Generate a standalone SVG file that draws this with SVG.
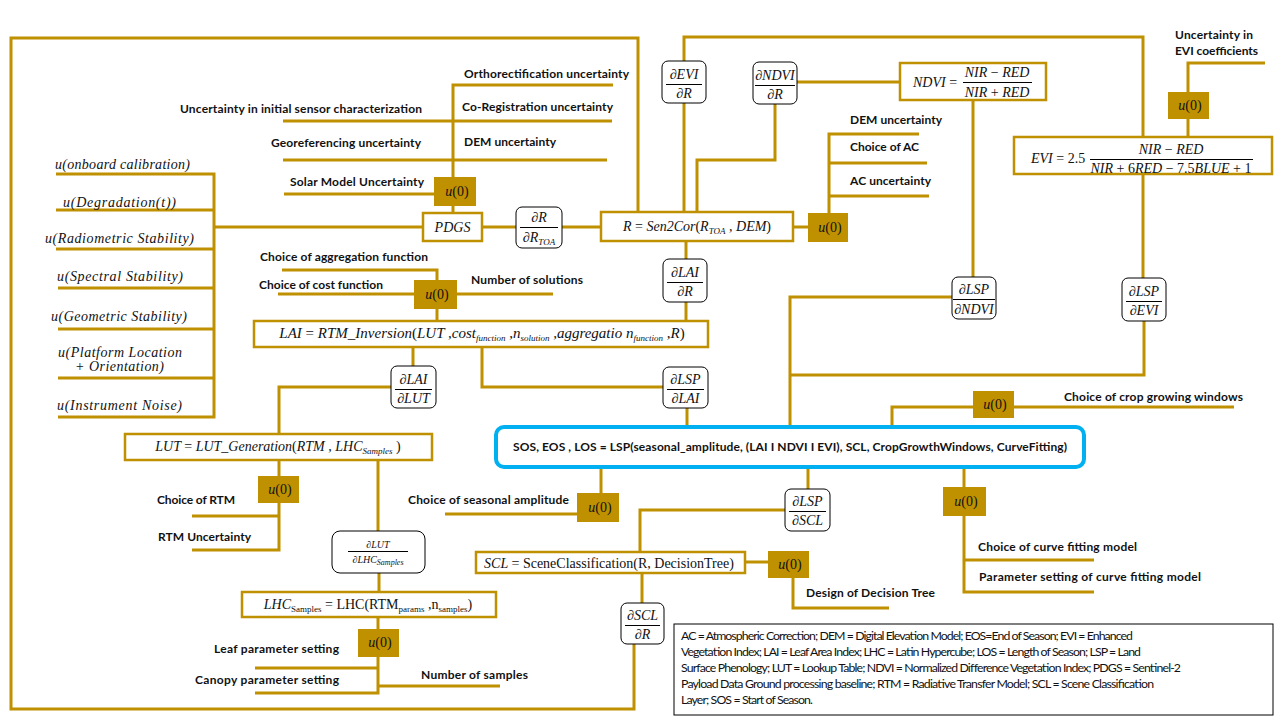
<svg xmlns="http://www.w3.org/2000/svg" width="1280" height="720" viewBox="0 0 1280 720">
<style>
.ln{stroke:#BF9000;stroke-width:3;fill:none}
.bx{fill:#fff;stroke:#BF9000;stroke-width:2.5}
.u0{fill:#BF9000}
.dv{fill:#fff;stroke:#000;stroke-width:1}
.fl{stroke:#000;stroke-width:1}
.t{font-family:Lato,"Liberation Sans",sans-serif;font-weight:bold;font-size:12px;fill:#111}
.m{font-family:"Liberation Serif",serif;font-style:italic;font-size:14px;fill:#111}
.mf{font-family:"Liberation Serif",serif;font-style:italic;font-size:14px;fill:#111}
.r{font-style:normal}
.c{text-anchor:middle}
.s{font-size:9px}
.lg{font-family:Lato,"Liberation Sans",sans-serif;font-size:12.3px;fill:#111}
.main{fill:#fff;stroke:#00B0F0;stroke-width:4}
</style>
<rect width="1280" height="720" fill="#fff"/>

<g id="connectors">
<path class="ln" d="M638,212 V38 H11 V709 H634 V644"/>
<path class="ln" d="M684,61 V37 H1143 V137"/>
<path class="ln" d="M684,103 V212"/>
<path class="ln" d="M697,212 V160 H775 V104"/>
<path class="ln" d="M797,82 H900"/>
<path class="ln" d="M973,100 V277"/>
<path class="ln" d="M790,427 V297 H952"/>
<path class="ln" d="M790,375 H1144 V321"/>
<path class="ln" d="M1143,174 V278"/>
<path class="ln" d="M1188,137 V119"/>
<path class="ln" d="M1188,92 V63 H1265"/>
<path class="ln" d="M56,174 H214 V417 H58"/>
<path class="ln" d="M56,210 H214"/>
<path class="ln" d="M56,249 H214"/>
<path class="ln" d="M58,288 H214"/>
<path class="ln" d="M58,329 H214"/>
<path class="ln" d="M58,378 H214"/>
<path class="ln" d="M214,227 H423"/>
<path class="ln" d="M482,227 H516"/>
<path class="ln" d="M562,227 H601"/>
<path class="ln" d="M283,121 H612"/>
<path class="ln" d="M283,160 H607"/>
<path class="ln" d="M284,194 H434"/>
<path class="ln" d="M613,85 H453 V177"/>
<path class="ln" d="M453,206 V213"/>
<path class="ln" d="M793,227 H808"/>
<path class="ln" d="M829,213 V134 H919"/>
<path class="ln" d="M829,163 H927"/>
<path class="ln" d="M829,196 H929"/>
<path class="ln" d="M686,241 V259"/>
<path class="ln" d="M686,302 V321"/>
<path class="ln" d="M282,270 H437 V280"/>
<path class="ln" d="M278,294 H414"/>
<path class="ln" d="M457,294 H553"/>
<path class="ln" d="M437,309 V321"/>
<path class="ln" d="M413,347 V366"/>
<path class="ln" d="M391,387 H279 V434"/>
<path class="ln" d="M482,347 V387 H663"/>
<path class="ln" d="M687,408 V427"/>
<path class="ln" d="M892,427 V407 H973"/>
<path class="ln" d="M1014,407 H1234"/>
<path class="ln" d="M601,467 V493"/>
<path class="ln" d="M445,514 H577"/>
<path class="ln" d="M808,467 V489"/>
<path class="ln" d="M785,510 H640 V552"/>
<path class="ln" d="M745,562 H768"/>
<path class="ln" d="M793,578 V608 H889"/>
<path class="ln" d="M642,573 V603"/>
<path class="ln" d="M964,467 V487"/>
<path class="ln" d="M964,516 V592 H1094"/>
<path class="ln" d="M964,560 H1094"/>
<path class="ln" d="M279,460 V476"/>
<path class="ln" d="M279,503 V550 H192"/>
<path class="ln" d="M279,516 H192"/>
<path class="ln" d="M378,460 V531"/>
<path class="ln" d="M379,573 V592"/>
<path class="ln" d="M378,617 V629"/>
<path class="ln" d="M378,657 V693 H255"/>
<path class="ln" d="M378,668 H255"/>
<path class="ln" d="M378,686 H500"/>
</g>

<!-- left uncertainty labels -->
<g id="u-onboard"><text class="m" x="55" y="169" textLength="135">u(onboard calibration)</text></g>
<g id="u-degradation"><text class="m" x="63" y="207" textLength="113">u(Degradation(t))</text></g>
<g id="u-radiometric"><text class="m" x="45" y="243" textLength="149">u(Radiometric Stability)</text></g>
<g id="u-spectral"><text class="m" x="57" y="281" textLength="126">u(Spectral Stability)</text></g>
<g id="u-geometric"><text class="m" x="51" y="321" textLength="136">u(Geometric Stability)</text></g>
<g id="u-platform"><text class="m" x="58" y="357" textLength="124">u(Platform Location</text><text class="m" x="75" y="371" textLength="89">+ Orientation)</text></g>
<g id="u-noise"><text class="m" x="57" y="410" textLength="125">u(Instrument Noise)</text></g>

<!-- top labels -->
<g id="l-initial"><text class="t" x="180" y="113" textLength="242">Uncertainty in initial sensor characterization</text></g>
<g id="l-georef"><text class="t" x="271" y="147" textLength="150">Georeferencing uncertainty</text></g>
<g id="l-solar"><text class="t" x="290" y="186" textLength="134">Solar Model Uncertainty</text></g>
<g id="l-ortho"><text class="t" x="464" y="78" textLength="165">Orthorectification uncertainty</text></g>
<g id="l-coreg"><text class="t" x="462" y="111" textLength="151">Co-Registration uncertainty</text></g>
<g id="l-dem1"><text class="t" x="464" y="146" textLength="92">DEM uncertainty</text></g>
<g id="l-dem2"><text class="t" x="850" y="124" textLength="92">DEM uncertainty</text></g>
<g id="l-choiceac"><text class="t" x="850" y="151" textLength="69">Choice of AC</text></g>
<g id="l-acunc"><text class="t" x="850" y="185" textLength="81">AC uncertainty</text></g>
<g id="l-evicoef"><text class="t" x="1175" y="39" textLength="78">Uncertainty in</text><text class="t" x="1175" y="55" textLength="83">EVI coefficients</text></g>
<g id="l-agg"><text class="t" x="260" y="261" textLength="168">Choice of aggregation function</text></g>
<g id="l-cost"><text class="t" x="259" y="289" textLength="124">Choice of cost function</text></g>
<g id="l-nsol"><text class="t" x="471" y="284" textLength="112">Number of solutions</text></g>
<g id="l-crop"><text class="t" x="1064" y="401" textLength="179">Choice of crop growing windows</text></g>
<g id="l-season"><text class="t" x="408" y="504" textLength="161">Choice of seasonal amplitude</text></g>
<g id="l-rtm"><text class="t" x="157" y="504" textLength="78">Choice of RTM</text></g>
<g id="l-rtmunc"><text class="t" x="158" y="541" textLength="93">RTM  Uncertainty</text></g>
<g id="l-leaf"><text class="t" x="214" y="653" textLength="125">Leaf parameter setting</text></g>
<g id="l-canopy"><text class="t" x="195" y="684" textLength="144">Canopy parameter setting</text></g>
<g id="l-nsamp"><text class="t" x="421" y="679" textLength="107">Number of samples</text></g>
<g id="l-dtree"><text class="t" x="806" y="597" textLength="129">Design of Decision Tree</text></g>
<g id="l-cfm"><text class="t" x="978" y="551" textLength="159">Choice of curve fitting model</text></g>
<g id="l-cfp"><text class="t" x="979" y="581" textLength="222">Parameter setting of curve fitting model</text></g>

<!-- u(0) boxes -->
<g id="u0-pdgs"><rect class="u0" x="434" y="177" width="42" height="29"/><text class="mf c" x="457" y="196">u<tspan class="r">(0)</tspan></text></g>
<g id="u0-ac"><rect class="u0" x="808" y="213" width="40" height="29"/><text class="mf c" x="830" y="232">u<tspan class="r">(0)</tspan></text></g>
<g id="u0-evi"><rect class="u0" x="1168" y="92" width="41" height="27"/><text class="mf c" x="1190" y="110">u<tspan class="r">(0)</tspan></text></g>
<g id="u0-lai"><rect class="u0" x="414" y="280" width="43" height="29"/><text class="mf c" x="437" y="299">u<tspan class="r">(0)</tspan></text></g>
<g id="u0-crop"><rect class="u0" x="973" y="391" width="41" height="27"/><text class="mf c" x="995" y="409">u<tspan class="r">(0)</tspan></text></g>
<g id="u0-season"><rect class="u0" x="577" y="493" width="42" height="29"/><text class="mf c" x="600" y="512">u<tspan class="r">(0)</tspan></text></g>
<g id="u0-scl"><rect class="u0" x="768" y="551" width="41" height="27"/><text class="mf c" x="790" y="569">u<tspan class="r">(0)</tspan></text></g>
<g id="u0-curve"><rect class="u0" x="943" y="487" width="43" height="29"/><text class="mf c" x="966" y="506">u<tspan class="r">(0)</tspan></text></g>
<g id="u0-lut"><rect class="u0" x="258" y="476" width="41" height="27"/><text class="mf c" x="280" y="494">u<tspan class="r">(0)</tspan></text></g>
<g id="u0-lhc"><rect class="u0" x="358" y="629" width="41" height="28"/><text class="mf c" x="380" y="647">u<tspan class="r">(0)</tspan></text></g>

<!-- formula boxes -->
<g id="pdgs"><rect class="bx" x="423" y="213" width="59" height="28"/><text class="mf c" x="452.5" y="232">PDGS</text></g>
<g id="r-sen2cor"><rect class="bx" x="601" y="212" width="192" height="29"/><text class="mf c" x="697" y="231">R <tspan class="r">=</tspan> Sen2Cor<tspan class="r">(</tspan>R<tspan class="s" dy="3">TOA</tspan><tspan dy="-3"> , DEM</tspan><tspan class="r">)</tspan></text></g>
<g id="ndvi"><rect class="bx" x="900" y="63" width="146" height="37"/>
<text class="mf" x="913" y="87">NDVI <tspan class="r">=</tspan></text>
<text class="mf c" x="997" y="77">NIR <tspan class="r">− </tspan>RED</text>
<line class="fl" x1="963" y1="82.5" x2="1032" y2="82.5"/>
<text class="mf c" x="997" y="97">NIR <tspan class="r">+ </tspan>RED</text></g>
<g id="evi"><rect class="bx" x="1014" y="137" width="258" height="37"/>
<text class="mf" x="1031" y="163">EVI <tspan class="r">= 2.5</tspan></text>
<text class="mf c" x="1171" y="154">NIR <tspan class="r">− </tspan>RED</text>
<line class="fl" x1="1090" y1="159.5" x2="1253" y2="159.5"/>
<text class="mf c" x="1171" y="173">NIR <tspan class="r">+ 6</tspan>RED <tspan class="r">− 7.5</tspan>BLUE <tspan class="r">+ 1</tspan></text></g>
<g id="lai"><rect class="bx" x="254" y="321" width="454" height="26"/><text class="mf c" x="482" y="338" style="font-size:15px">LAI <tspan class="r">=</tspan> RTM_Inversion<tspan class="r">(</tspan>LUT ,cost<tspan class="s" dy="3">function</tspan><tspan dy="-3"> ,n</tspan><tspan class="s" dy="3">solution</tspan><tspan dy="-3"> ,aggregatio n</tspan><tspan class="s" dy="3">function</tspan><tspan dy="-3"> ,R</tspan><tspan class="r">)</tspan></text></g>
<g id="lut"><rect class="bx" x="125" y="434" width="307" height="26"/><text class="mf c" x="278" y="451">LUT <tspan class="r">=</tspan> LUT_Generation<tspan class="r">(</tspan>RTM , LHC<tspan class="s" dy="3">Samples</tspan><tspan dy="-3" class="r"> )</tspan></text></g>
<g id="lhc"><rect class="bx" x="242" y="592" width="254" height="25"/><text class="mf c" x="368" y="609">LHC<tspan class="s r" dy="3">Samples</tspan><tspan class="r" dy="-3"> = LHC(RTM</tspan><tspan class="s r" dy="3">params</tspan><tspan class="r" dy="-3"> ,n</tspan><tspan class="s r" dy="3">samples</tspan><tspan class="r" dy="-3">)</tspan></text></g>
<g id="scl"><rect class="bx" x="476" y="552" width="269" height="21"/><text class="mf c" x="609" y="568">SCL <tspan class="r">= SceneClassification(R, DecisionTree)</tspan></text></g>

<!-- main LSP -->
<g id="lsp"><rect class="main" x="496" y="427" width="588" height="40" rx="8"/><text class="t" x="513" y="451" textLength="554">SOS, EOS , LOS = LSP(seasonal_amplitude,  (LAI I NDVI I EVI), SCL, CropGrowthWindows, CurveFitting)</text></g>

<!-- derivative boxes -->
<g id="d-r-rtoa"><rect class="dv" x="516" y="207" width="46" height="41" rx="6"/><text class="mf c" x="539" y="222">∂R</text><line class="fl" x1="520" y1="227.5" x2="558" y2="227.5"/><text class="mf c" x="539" y="242">∂R<tspan class="s" dy="3">TOA</tspan></text></g>
<g id="d-evi-r"><rect class="dv" x="662" y="61" width="44" height="42" rx="6"/><text class="mf c" x="684" y="79">∂EVI</text><line class="fl" x1="666" y1="84.5" x2="702" y2="84.5"/><text class="mf c" x="684" y="98">∂R</text></g>
<g id="d-ndvi-r"><rect class="dv" x="753" y="62" width="44" height="42" rx="6"/><text class="mf c" x="775" y="80">∂NDVI</text><line class="fl" x1="755" y1="85.5" x2="795" y2="85.5"/><text class="mf c" x="775" y="99">∂R</text></g>
<g id="d-lai-r"><rect class="dv" x="663" y="259" width="44" height="43" rx="6"/><text class="mf c" x="685" y="277">∂LAI</text><line class="fl" x1="667" y1="282.5" x2="703" y2="282.5"/><text class="mf c" x="685" y="296">∂R</text></g>
<g id="d-lai-lut"><rect class="dv" x="391" y="366" width="45" height="42" rx="6"/><text class="mf c" x="413.5" y="384">∂LAI</text><line class="fl" x1="395" y1="389.5" x2="432" y2="389.5"/><text class="mf c" x="413.5" y="403">∂LUT</text></g>
<g id="d-lsp-lai"><rect class="dv" x="663" y="367" width="45" height="41" rx="6"/><text class="mf c" x="685.5" y="384">∂LSP</text><line class="fl" x1="667" y1="389.5" x2="704" y2="389.5"/><text class="mf c" x="685.5" y="403">∂LAI</text></g>
<g id="d-lsp-ndvi"><rect class="dv" x="952" y="277" width="44" height="42" rx="6"/><text class="mf c" x="974" y="294">∂LSP</text><line class="fl" x1="953" y1="299.5" x2="995" y2="299.5"/><text class="mf c" x="974" y="314">∂NDVI</text></g>
<g id="d-lsp-evi"><rect class="dv" x="1122" y="278" width="44" height="43" rx="6"/><text class="mf c" x="1144" y="296">∂LSP</text><line class="fl" x1="1126" y1="301.5" x2="1162" y2="301.5"/><text class="mf c" x="1144" y="315">∂EVI</text></g>
<g id="d-lsp-scl"><rect class="dv" x="785" y="489" width="45" height="42" rx="6"/><text class="mf c" x="807.5" y="506">∂LSP</text><line class="fl" x1="789" y1="511.5" x2="826" y2="511.5"/><text class="mf c" x="807.5" y="525">∂SCL</text></g>
<g id="d-scl-r"><rect class="dv" x="621" y="603" width="43" height="41" rx="6"/><text class="mf c" x="642.5" y="620">∂SCL</text><line class="fl" x1="625" y1="625.5" x2="660" y2="625.5"/><text class="mf c" x="642.5" y="639">∂R</text></g>
<g id="d-lut-lhc"><rect class="dv" x="332" y="531" width="93" height="42" rx="8"/><text class="m c" x="378" y="548" style="font-size:10px">∂LUT</text><line class="fl" x1="348" y1="551.5" x2="408" y2="551.5"/><text class="m c" x="378" y="563" style="font-size:10px">∂LHC<tspan style="font-size:8px" dy="2">Samples</tspan></text></g>

<!-- legend -->
<g id="legend"><rect x="674" y="624" width="599" height="91" fill="#fff" stroke="#000" stroke-width="1"/>
<text class="lg" x="681" y="640" textLength="452">AC = Atmospheric Correction; DEM = Digital Elevation Model; EOS=End of Season; EVI = Enhanced</text>
<text class="lg" x="681" y="656" textLength="460">Vegetation  Index; LAI = Leaf Area Index; LHC = Latin Hypercube; LOS = Length of Season; LSP = Land</text>
<text class="lg" x="681" y="672" textLength="500">Surface Phenology; LUT = Lookup Table; NDVI = Normalized Difference Vegetation  Index; PDGS = Sentinel-2</text>
<text class="lg" x="681" y="688" textLength="473">Payload Data Ground processing baseline;  RTM = Radiative Transfer Model; SCL = Scene Classification</text>
<text class="lg" x="681" y="704" textLength="132">Layer; SOS = Start of Season.</text></g>
</svg>
